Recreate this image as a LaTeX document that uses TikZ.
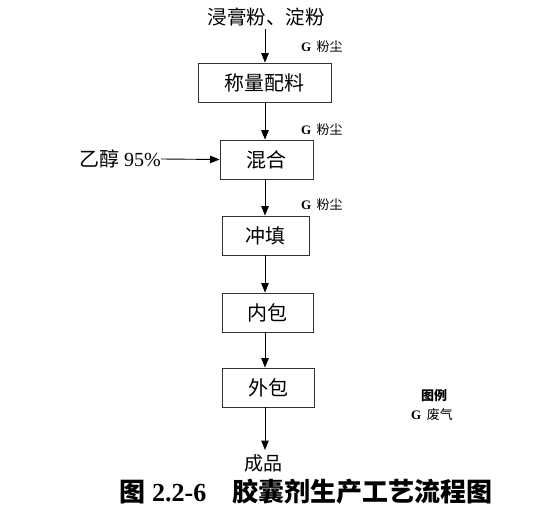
\documentclass[tikz,border=0pt]{standalone}
\usepackage{fontspec}
\setmainfont{Liberation Serif}
\newfontfamily\cjk{Noto Sans CJK SC}
\usetikzlibrary{arrows.meta}

\begin{document}
\begin{tikzpicture}[x=1pt, y=-1pt, >={Triangle[length=3.3mm,width=2.6mm]},
	every node/.style={inner sep=0pt},
	procbox/.style={draw=black!80, line width=0.8pt, minimum height=39pt, font=\fontsize{20}{20}\selectfont\cjk},
	dust/.style={anchor=west, font=\fontsize{13}{13}\selectfont},
	flow/.style={->, line width=0.9pt}]
	\useasboundingbox (0,0) rectangle (538,513);
	% raw materials
	\node[font=\fontsize{19.5}{19.5}\selectfont\cjk] (raw) at (266,17) {浸膏粉、淀粉};
	\node[procbox, minimum width=133pt] (weigh) at (264.5,82.5) {称量配料};
	\node[procbox, minimum width=93pt] (mix) at (266.5,159.5) {混合};
	\node[procbox, minimum width=87pt] (fill) at (265.5,235.5) {冲填};
	\node[procbox, minimum width=91pt] (inner) at (267.5,312.5) {内包};
	\node[procbox, minimum width=92pt] (outer) at (268,387.5) {外包};
	\node[font=\fontsize{19}{19}\selectfont\cjk] (product) at (263,463) {成品};
	% side input
	\node[anchor=east, font=\fontsize{20}{20}\selectfont] (ethanol) at (161,159) {{\cjk 乙醇} 95\%};
	% dust labels
	\node[dust] (g1) at (301,47) {\textbf{G}\, {\cjk 粉尘}};
	\node[dust] (g2) at (301,130) {\textbf{G}\, {\cjk 粉尘}};
	\node[dust] (g3) at (301,205) {\textbf{G}\, {\cjk 粉尘}};
	% legend
	\node[font=\fontsize{13}{13}\selectfont\cjk\bfseries] (legend) at (434,396) {图例};
	\node[font=\fontsize{13}{13}\selectfont] (legG) at (432,415) {\textbf{G}\, {\cjk 废气}};
	% caption
	\node[font=\fontsize{26}{26}\selectfont\bfseries] (caption) at (306,492) {{\cjk 图} 2.2-6\quad{\cjk 胶囊剂生产工艺流程图}};
	% arrows
	\coordinate (top) at (265,29);
	\coordinate (bot) at (265,450);
	\draw[flow] (top) -- (top |- weigh.north);
	\draw[flow] (weigh.south -| top) -- (mix.north -| top);
	\draw[flow] (ethanol.east) -- (mix.west);
	\draw[flow] (mix.south -| top) -- (fill.north -| top);
	\draw[flow] (fill.south -| top) -- (inner.north -| top);
	\draw[flow] (inner.south -| top) -- (outer.north -| top);
	\draw[flow] (outer.south -| top) -- (bot);
\end{tikzpicture}
\end{document}
